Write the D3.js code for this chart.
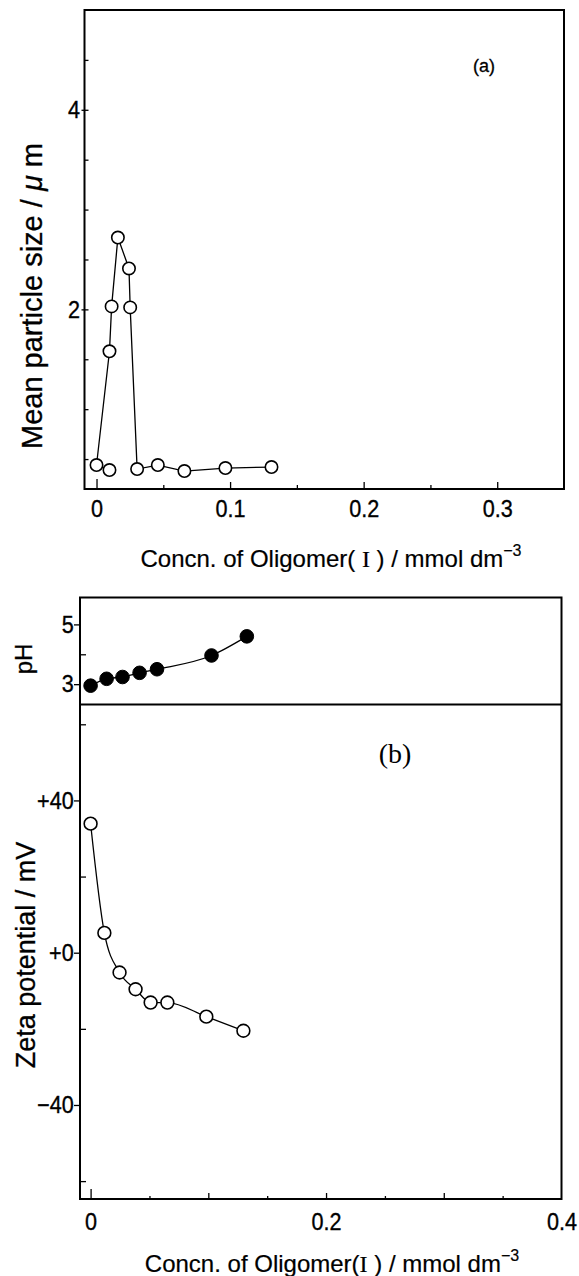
<!DOCTYPE html>
<html><head><meta charset="utf-8">
<script src="https://cdn.jsdelivr.net/npm/d3@7"></script>
<style>
body{margin:0;background:#fff}
svg{display:block}
</style>
</head><body>
<svg id="c" width="579" height="1276" font-family="'Liberation Sans', Arial, Helvetica, sans-serif"></svg>
<script>
// ---- data: panel (a) mean particle size ----
const sizeConc = [0, 0.0097, 0.0097, 0.0113, 0.016, 0.0243, 0.0252, 0.0304, 0.0459, 0.0658, 0.0965, 0.131];
const sizeVal  = [0.44, 0.39, 1.58, 2.03, 2.72, 2.41, 2.02, 0.40, 0.44, 0.38, 0.41, 0.42];
const sizeOnLine = [true, false, true, true, true, true, true, true, true, true, true, true];
// ---- data: panel (b) pH ----
const phConc = [0, 0.0136, 0.0271, 0.0416, 0.0564, 0.1027, 0.1327];
const phVal  = [2.95, 3.18, 3.24, 3.38, 3.5, 3.96, 4.6];
// ---- data: panel (b) zeta potential ----
const zetaConc = [0, 0.0117, 0.0246, 0.0382, 0.051, 0.0652, 0.0983, 0.1298];
const zetaVal  = [33.9, 5.2, -5.2, -9.6, -13.1, -13.1, -16.8, -20.5];
// ---- tick labels ----
const aXLabels = [0, 0.1, 0.2, 0.3];
const aYLabels = [2, 4];
const bXLabels = [0, 0.2, 0.4];
const phLabels = [3, 5];
const zetaLabels = [40, 0, -40];

const SERIF = "'Liberation Serif','Times New Roman',serif";
const svg = d3.select("#c");
svg.append("rect").attr("width",579).attr("height",1276).attr("fill","#fff");

// ================= Panel (a) =================
const A = {l:84.5, r:564, t:10, b:489};
const xa = d3.scaleLinear().domain([-0.009, 0.35]).range([A.l, A.r]);
const ya = d3.scaleLinear().domain([0.2, 5]).range([A.b, A.t]);

function cleanAxis(g){ g.select(".domain").remove(); g.selectAll("line").attr("stroke","#000").attr("stroke-width",1.3); }
function styleLabels(g){
  g.selectAll("text").attr("font-size",TF).attr("font-family",null)
   .attr("transform","scale(0.9,1)").attr("fill","#000")
   .attr("stroke","#000").attr("stroke-width",0.35);
}
const TF = 24;
// x ticks (inward)
svg.append("g").attr("transform",`translate(0,${A.b})`)
  .call(d3.axisBottom(xa).tickValues(d3.range(0.05,0.35,0.1)).tickSize(-4).tickFormat(""))
  .call(cleanAxis);
svg.append("g").attr("transform",`translate(0,${A.b})`)
  .call(d3.axisBottom(xa).tickValues(aXLabels.slice(1)).tickSize(-7).tickFormat(""))
  .call(cleanAxis);
svg.append("g").attr("transform",`translate(0,${A.b})`)
  .call(d3.axisBottom(xa).tickValues([0]).tickSize(-10).tickFormat(""))
  .call(cleanAxis);
svg.append("g").attr("transform",`translate(0,${A.b})`).attr("font-family",null)
  .call(d3.axisBottom(xa).tickValues(aXLabels).tickSize(0).tickPadding(11).tickFormat(d=>d===0?"0":d3.format(".1f")(d)))
  .call(cleanAxis).attr("font-family",null).call(styleLabels);
// y ticks
svg.append("g").attr("transform",`translate(${A.l},0)`)
  .call(d3.axisLeft(ya).tickValues([0.5,1,1.5,2.5,3,3.5,4.5]).tickSize(-4).tickFormat(""))
  .call(cleanAxis);
svg.append("g").attr("transform",`translate(${A.l},0)`)
  .call(d3.axisLeft(ya).tickValues(aYLabels).tickSize(-4).tickFormat(""))
  .call(cleanAxis);
svg.append("g").attr("transform",`translate(${A.l},0)`)
  .call(d3.axisLeft(ya).tickValues(aYLabels).tickSize(3).tickPadding(2).tickFormat(d3.format("d")))
  .call(cleanAxis).attr("font-family",null).call(styleLabels);

// frame
svg.append("rect").attr("x",A.l).attr("y",A.t).attr("width",A.r-A.l).attr("height",A.b-A.t)
  .attr("fill","none").attr("stroke","#000").attr("stroke-width",2);

// data (a)
const idxA = d3.range(sizeConc.length);
svg.append("path").datum(idxA.filter(i=>sizeOnLine[i]))
  .attr("d", d3.line().x(i=>xa(sizeConc[i])).y(i=>ya(sizeVal[i])))
  .attr("fill","none").attr("stroke","#000").attr("stroke-width",1.3);
svg.append("g").selectAll("circle").data(idxA).join("circle")
  .attr("cx",i=>xa(sizeConc[i])).attr("cy",i=>ya(sizeVal[i])).attr("r",6.2)
  .attr("fill","#fff").attr("stroke","#000").attr("stroke-width",1.6);

svg.append("text").attr("x",484).attr("y",72).attr("text-anchor","middle").attr("font-size",18)
  .attr("stroke","#000").attr("stroke-width",0.3).text("(a)");

// axis titles (a)
const xtA = svg.append("text").attr("x",331).attr("y",567).attr("text-anchor","middle").attr("font-size",24)
  .attr("stroke","#000").attr("stroke-width",0.2);
xtA.append("tspan").text("Concn. of Oligomer( ");
xtA.append("tspan").attr("font-family",SERIF).text("I");
xtA.append("tspan").text(" ) / mmol dm");
xtA.append("tspan").attr("font-size",16).attr("dy",-11).text("\u22123");

const ytA = svg.append("text").attr("transform","translate(42,296) rotate(-90)").attr("text-anchor","middle").attr("font-size",29)
  .attr("stroke","#000").attr("stroke-width",0.3);
ytA.append("tspan").text("Mean particle size / ");
ytA.append("tspan").attr("font-style","italic").text("\u03bc");
ytA.append("tspan").text(" m");

// ================= Panel (b) =================
const B = {l:80, r:561.5, t:597.5, m:704.5, b:1199};
const xb = d3.scaleLinear().domain([-0.009, 0.4]).range([B.l, B.r]);
const yph = d3.scaleLinear().domain([2.32, 5.9]).range([B.m, B.t]);
const yz = d3.scaleLinear().domain([-64.7, 65.2]).range([B.b, B.m]);

// x ticks
svg.append("g").attr("transform",`translate(0,${B.b})`)
  .call(d3.axisBottom(xb).tickValues([0.05,0.15,0.25,0.35]).tickSize(-3).tickFormat(""))
  .call(cleanAxis);
svg.append("g").attr("transform",`translate(0,${B.b})`)
  .call(d3.axisBottom(xb).tickValues([0.1,0.2,0.3]).tickSize(-6).tickFormat(""))
  .call(cleanAxis);
svg.append("g").attr("transform",`translate(0,${B.b})`)
  .call(d3.axisBottom(xb).tickValues([0]).tickSize(-10).tickFormat(""))
  .call(cleanAxis);
svg.append("g").attr("transform",`translate(0,${B.b})`)
  .call(d3.axisBottom(xb).tickValues(bXLabels).tickSize(0).tickPadding(14).tickFormat(d=>d===0?"0":d3.format(".1f")(d)))
  .call(cleanAxis).attr("font-family",null).call(styleLabels);

// pH ticks
svg.append("g").attr("transform",`translate(${B.l},0)`)
  .call(d3.axisLeft(yph).tickValues([4]).tickSize(-6).tickFormat(""))
  .call(cleanAxis);
svg.append("g").attr("transform",`translate(${B.l},0)`)
  .call(d3.axisLeft(yph).tickValues(phLabels).tickSize(6).tickPadding(1).tickFormat(d3.format("d")))
  .call(cleanAxis).attr("font-family",null).call(styleLabels);

// zeta ticks
svg.append("g").attr("transform",`translate(${B.l},0)`)
  .call(d3.axisLeft(yz).tickValues([60,20,-20,-60]).tickSize(-6).tickFormat(""))
  .call(cleanAxis);
svg.append("g").attr("transform",`translate(${B.l},0)`)
  .call(d3.axisLeft(yz).tickValues(zetaLabels).tickSize(6).tickPadding(1).tickFormat(d=>d<0?"\u2212"+Math.abs(d):"+"+d))
  .call(cleanAxis).attr("font-family",null).call(styleLabels);

// frame
svg.append("rect").attr("x",B.l).attr("y",B.t).attr("width",B.r-B.l).attr("height",B.b-B.t)
  .attr("fill","none").attr("stroke","#000").attr("stroke-width",2);
svg.append("line").attr("x1",B.l).attr("x2",B.r).attr("y1",B.m).attr("y2",B.m)
  .attr("stroke","#000").attr("stroke-width",2);

// data pH
const idxP = d3.range(phConc.length);
svg.append("path").datum(idxP)
  .attr("d", d3.line().curve(d3.curveMonotoneX).x(i=>xb(phConc[i])).y(i=>yph(phVal[i])))
  .attr("fill","none").attr("stroke","#000").attr("stroke-width",1.3);
svg.append("g").selectAll("circle").data(idxP).join("circle")
  .attr("cx",i=>xb(phConc[i])).attr("cy",i=>yph(phVal[i])).attr("r",6.8)
  .attr("fill","#000").attr("stroke","#000").attr("stroke-width",1);

// data zeta
const idxZ = d3.range(zetaConc.length);
svg.append("path").datum(idxZ)
  .attr("d", d3.line().curve(d3.curveMonotoneX).x(i=>xb(zetaConc[i])).y(i=>yz(zetaVal[i])))
  .attr("fill","none").attr("stroke","#000").attr("stroke-width",1.3);
svg.append("g").selectAll("circle").data(idxZ).join("circle")
  .attr("cx",i=>xb(zetaConc[i])).attr("cy",i=>yz(zetaVal[i])).attr("r",6.4)
  .attr("fill","#fff").attr("stroke","#000").attr("stroke-width",1.6);

svg.append("text").attr("x",395).attr("y",763).attr("text-anchor","middle")
  .attr("font-family",SERIF).attr("font-size",28).text("(b)");

// axis titles (b)
const xtB = svg.append("text").attr("x",332).attr("y",1272).attr("text-anchor","middle").attr("font-size",24)
  .attr("stroke","#000").attr("stroke-width",0.2);
xtB.append("tspan").text("Concn. of Oligomer(");
xtB.append("tspan").attr("font-family",SERIF).text("I");
xtB.append("tspan").text(" ) / mmol dm");
xtB.append("tspan").attr("font-size",16).attr("dy",-11).text("\u22123");

svg.append("text").attr("transform","translate(32,659) rotate(-90)").attr("text-anchor","middle").attr("font-size",24)
  .attr("stroke","#000").attr("stroke-width",0.3).text("pH");
svg.append("text").attr("transform","translate(35,955) rotate(-90)").attr("text-anchor","middle").attr("font-size",27)
  .attr("stroke","#000").attr("stroke-width",0.3).text("Zeta potential / mV");
</script>
</body></html>
